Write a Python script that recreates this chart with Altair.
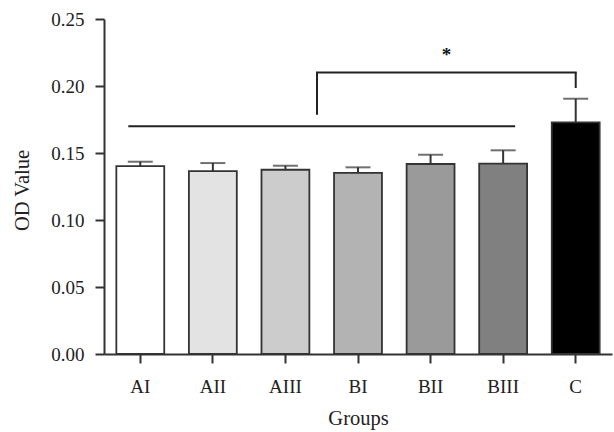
import altair as alt
import pandas as pd

# ---- data ----
groups = ["AI", "AII", "AIII", "BI", "BII", "BIII", "C"]
means = [0.1402, 0.1365, 0.1375, 0.1351, 0.1418, 0.1420, 0.1728]
sems = [0.0033, 0.0060, 0.0030, 0.0042, 0.0069, 0.0100, 0.0177]
fills = ["#ffffff", "#e3e3e3", "#cccccc", "#b3b3b3", "#9a9a9a", "#808080", "#000000"]

# significance annotations
line_from, line_to, line_y = ["AI"], ["BIII"], [0.170]
bracket_from, bracket_to = ["BI"], ["C"]
bracket_top = [0.2101]
bracket_left_bottom = [0.1786]
bracket_right_bottom = [0.1985]
star_group, star_y, star_text = ["BII"], [0.2184], ["*"]

df = pd.DataFrame({"group": groups, "mean": means, "sem": sems})
df["upper"] = df["mean"] + df["sem"]

FONT = "Liberation Serif"
INK = "#333333"

xscale = alt.Scale(domain=groups, paddingInner=0.34, paddingOuter=0.17)
yscale = alt.Scale(domain=[0, 0.25], nice=False, zero=True)

x_axis = alt.Axis(
    labelAngle=0, labelFont=FONT, labelFontSize=19, labelColor="#222222",
    labelPadding=14, tickSize=9, tickWidth=2, tickColor=INK,
    domainColor=INK, domainWidth=2, grid=False,
    titleFont=FONT, titleFontSize=20.5, titleFontWeight="normal", titleColor="#222222",
    titleBaseline="alphabetic", titleY=70,
)
y_axis = alt.Axis(
    values=[0, 0.05, 0.10, 0.15, 0.20, 0.25], format=".2f",
    labelFont=FONT, labelFontSize=19, labelColor="#222222", labelPadding=11,
    tickSize=9, tickWidth=2, tickColor=INK, domainColor=INK, domainWidth=2,
    grid=False, titleFont=FONT, titleFontSize=20.5, titleFontWeight="normal",
    titleColor="#222222", titleAngle=-90, titleAlign="center",
    titleBaseline="alphabetic", titleX=-76, titleY=171,
)

base = alt.Chart(df)

bars = base.mark_bar(stroke=INK, strokeWidth=1.8).encode(
    x=alt.X("group:N", sort=groups, scale=xscale, axis=x_axis, title="Groups"),
    y=alt.Y("mean:Q", scale=yscale, axis=y_axis, title="OD Value"),
    fill=alt.Fill("group:N", scale=alt.Scale(domain=groups, range=fills), legend=None),
)

stems = base.mark_rule(color=INK, strokeWidth=2).encode(
    x=alt.X("group:N", sort=groups),
    y="mean:Q",
    y2="upper:Q",
)

caps = base.mark_tick(color=INK, thickness=2, size=25, orient="horizontal").encode(
    x=alt.X("group:N", sort=groups),
    y="upper:Q",
)

line_df = pd.DataFrame({"a": line_from, "b": line_to, "y": line_y})
hline = alt.Chart(line_df).mark_rule(color="#222222", strokeWidth=2, xOffset=-12, x2Offset=12).encode(
    x="a:N", x2="b:N", y="y:Q"
)

br_df = pd.DataFrame({
    "a": bracket_from, "b": bracket_to, "top": bracket_top,
    "lb": bracket_left_bottom, "rb": bracket_right_bottom,
})
br_top = alt.Chart(br_df).mark_rule(color="#222222", strokeWidth=2, xOffset=-41, strokeCap="square").encode(
    x="a:N", x2="b:N", y="top:Q"
)
br_left = alt.Chart(br_df).mark_rule(color="#222222", strokeWidth=2, xOffset=-41).encode(
    x="a:N", y="lb:Q", y2="top:Q"
)
br_right = alt.Chart(br_df).mark_rule(color="#222222", strokeWidth=2).encode(
    x="b:N", y="rb:Q", y2="top:Q"
)

star_df = pd.DataFrame({"g": star_group, "y": star_y, "t": star_text})
star = alt.Chart(star_df).mark_text(
    font=FONT, fontSize=19, fontWeight="bold", color="#111111", dx=16,
    baseline="alphabetic", align="center"
).encode(x="g:N", y="y:Q", text="t:N")

chart = alt.layer(bars, stems, caps, hline, br_top, br_left, br_right, star).properties(
    width=508, height=335,
    padding={"left": 104, "top": 19, "right": 2, "bottom": 78},
    autosize=alt.AutoSizeParams(type="none"),
    background="white",
).configure_view(stroke=None)

chart.save("out.html", embed_options={"renderer": "svg", "actions": False})
